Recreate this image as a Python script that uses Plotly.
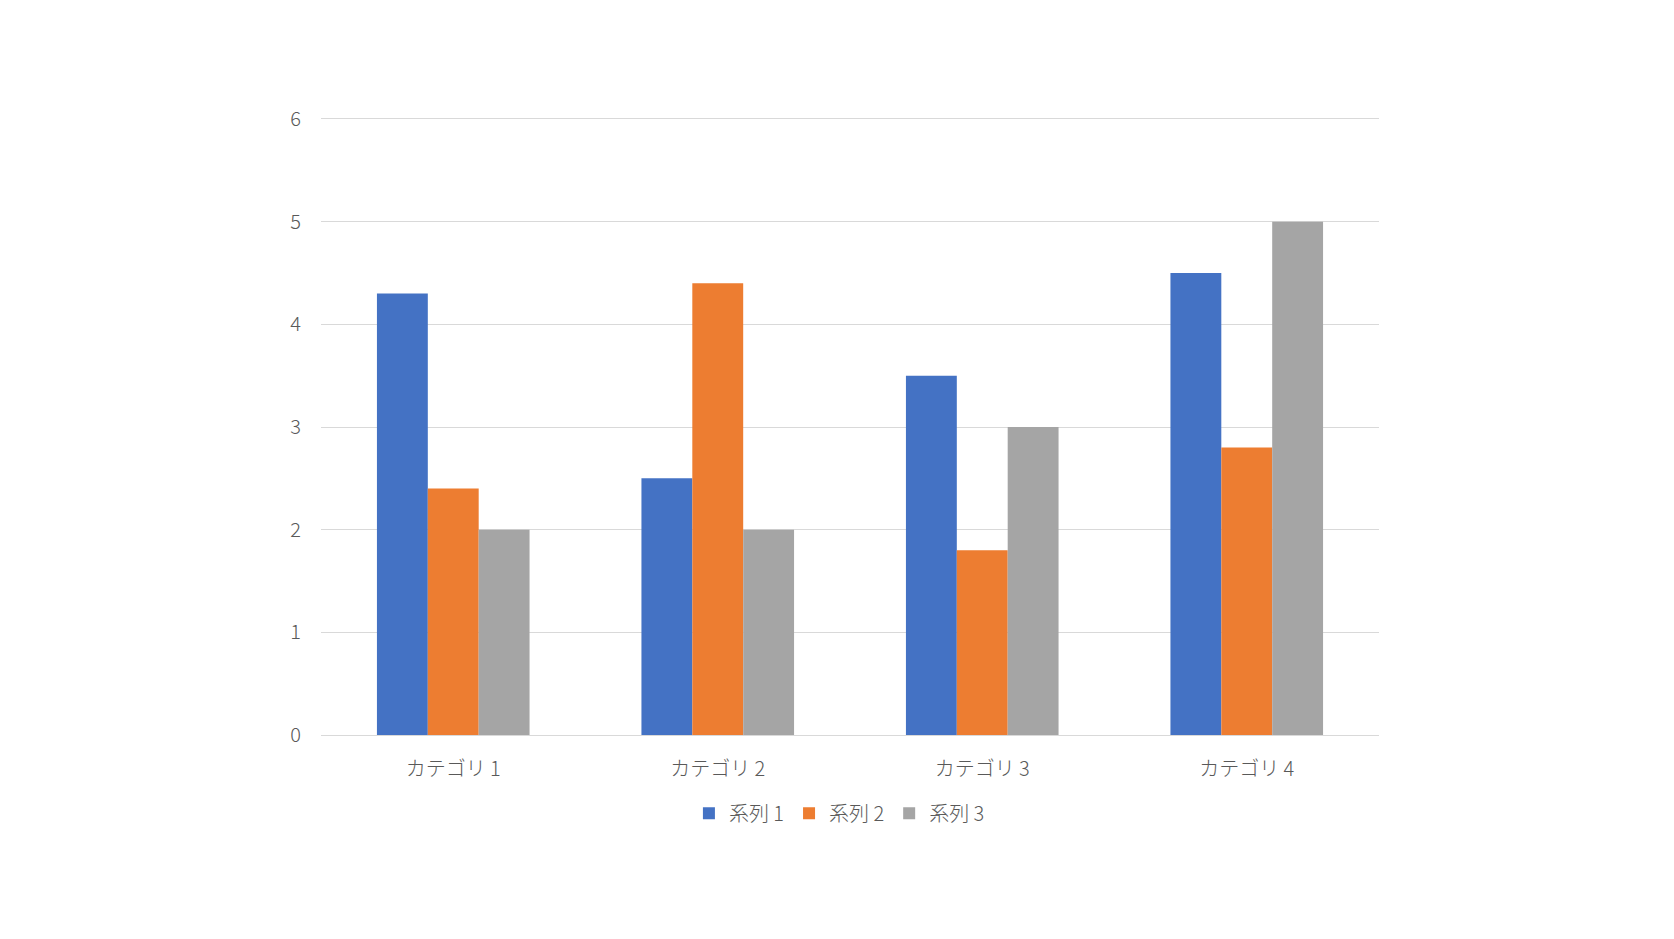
import plotly.graph_objects as go

categories = ["カテゴリ 1", "カテゴリ 2", "カテゴリ 3", "カテゴリ 4"]
series_names = ["系列 1", "系列 2", "系列 3"]
series1 = [4.3, 2.5, 3.5, 4.5]
series2 = [2.4, 4.4, 1.8, 2.8]
series3 = [2.0, 2.0, 3.0, 5.0]
colors = ["#4472C4", "#ED7D31", "#A5A5A5"]

font_family = "Noto Sans CJK JP, Noto Sans, sans-serif"
text_color = "#595959"

fig = go.Figure()
for name, vals, col in zip(series_names, [series1, series2, series3], colors):
    fig.add_trace(go.Bar(x=categories, y=vals, name=name, marker=dict(color=col, line=dict(width=0))))

fig.update_layout(
    width=1658, height=923,
    margin=dict(l=313, r=287, t=111, b=196),
    paper_bgcolor="white", plot_bgcolor="white",
    barmode="group", bargap=0.423, bargroupgap=0,
    font=dict(family=font_family, color=text_color, size=20, weight=300),
    showlegend=True,
    legend=dict(orientation="h", x=0.49, xanchor="center", y=-0.127, yanchor="middle",
                font=dict(size=20, color=text_color, weight=300), itemwidth=30, tracegroupgap=0),
    xaxis=dict(showgrid=False, showline=True, mirror=True, linecolor="#d9d9d9", linewidth=1,
               ticks="", ticklabelstandoff=16, tickfont=dict(size=20, color=text_color, weight=300)),
    yaxis=dict(range=[0, 6], dtick=1, showgrid=True, gridcolor="#d9d9d9", gridwidth=1,
               zeroline=False, showline=False, ticks="", ticklabelstandoff=19,
               tickfont=dict(size=20, color=text_color, weight=300)),
)

fig.write_html("out.html")
